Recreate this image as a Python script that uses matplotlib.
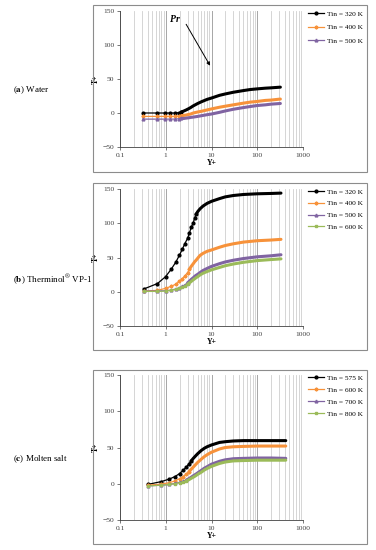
import matplotlib
matplotlib.use("Agg")
import matplotlib.pyplot as plt
from matplotlib.patches import Rectangle

plt.rcParams["font.family"] = ["Liberation Serif", "DejaVu Serif"]
plt.rcParams["mathtext.fontset"] = "stix"

# ---- data (a) Water
ya = [0.32, 0.63, 0.95, 1.26, 1.58, 1.9, 2.2, 2.5, 2.8, 3.2, 3.5, 4, 5, 6, 8,
      10, 15, 20, 30, 50, 70, 100, 150, 200, 320]
water_320 = [0, 0, 0, 0, 0, 0.5, 1.5, 3, 4.5, 6.5, 8, 10.5, 14, 16.5, 20,
             22, 26, 28, 30.5, 33, 34.5, 35.5, 36.5, 37, 38]
water_400 = [-5, -5, -5, -5, -5, -4.5, -4, -3.5, -3, -2, -1.5, 0, 1.5, 2.5, 4.5,
             6, 8.5, 10, 12, 14.5, 16, 17, 18.5, 19, 20.5]
water_500 = [-9, -9, -9, -9, -9, -8.5, -8, -8, -7.5, -7, -6.5, -6, -5, -4, -2.5,
             -1.5, 1, 3, 5.5, 8, 9.5, 11, 12, 13, 14]
water_labels = ["Tin = 320 K", "Tin = 400 K", "Tin = 500 K"]

# ---- data (b) Therminol VP-1
yb = [0.33, 0.66, 0.99, 1.32, 1.65, 1.98, 2.3, 2.6, 3.0, 3.3, 3.6, 4.0, 4.3,
      4.6, 5, 5.6, 6.5, 8, 10, 15, 20, 30, 50, 100, 200, 330]
vp1_320 = [4, 12, 22, 33, 43, 53, 62, 70, 78, 86, 94, 101, 108,
           113, 117, 121, 125, 129, 132, 136, 138.5, 140.5, 142, 143, 143.5, 144]
vp1_400 = [1, 2, 5, 8, 11, 15, 19, 23, 28, 33, 37, 41, 44,
           46, 49, 53, 56, 59, 61, 65, 67.5, 70, 72.5, 74.5, 75.5, 76.5]
vp1_500 = [1, 1, 1.5, 2.5, 4, 6, 8, 10, 13, 15.5, 18, 20.5, 22.5,
           24, 25.5, 28, 31, 34, 37, 41, 43.5, 46, 48.5, 51, 52.5, 54]
vp1_600 = [0.5, 0.5, 1, 2, 3.5, 5, 7, 9, 11, 13, 15, 17.5, 19,
           20.5, 22, 24.5, 27, 29.5, 32, 35.5, 38, 40.5, 43, 45.5, 47, 48]
vp1_labels = ["Tin = 320 K", "Tin = 400 K", "Tin = 500 K", "Tin = 600 K"]

# ---- data (c) Molten salt
yc = [0.4, 0.8, 1.2, 1.6, 2, 2.4, 2.8, 3.2, 3.6, 4, 4.5, 5, 6, 7, 8,
      10, 15, 20, 30, 50, 100, 200, 420]
salt_575 = [-1, 3, 6.5, 10, 14, 18.5, 23, 27.5, 31.5, 35, 38.5, 41.5, 46, 49, 51,
            53.5, 57, 58, 59, 59.5, 59.5, 59.5, 59.5]
salt_600 = [-2, -0.5, 1.5, 4, 7, 10, 13, 16.5, 20, 23, 26.5, 29.5, 34, 37.5, 40,
            43.5, 48, 50, 51, 51.5, 52, 52, 52]
salt_700 = [-3, -2, -1, 0.5, 2, 3.5, 5, 7, 9, 11, 13, 15, 18.5, 21.5, 23.5,
            27, 31, 33, 34.5, 35, 35.5, 35.5, 35]
salt_800 = [-3, -2, -1, 0, 1.5, 2.5, 4, 5.5, 7.5, 9, 11, 13, 16, 19, 21,
            24, 28, 30, 31.5, 32, 32.5, 32.5, 32.5]
salt_labels = ["Tin = 575 K", "Tin = 600 K", "Tin = 700 K", "Tin = 800 K"]

colors = ["black", "#F7923A", "#8064A2", "#9BBB59"]
markers = ["o", "P", "^", "s"]

W, H = 376, 550
fig = plt.figure(figsize=(W / 100, H / 100), dpi=100)


def fx(px):
    return px / W


def fy(py):
    return 1 - py / H


def panel(top, bottom, box_top, box_bottom, x, series, labels, spacing, title, title_y, cut):
    fig.add_artist(Rectangle((fx(93), fy(box_bottom)), fx(367) - fx(93),
                             fy(box_top) - fy(box_bottom), transform=fig.transFigure,
                             fill=False, edgecolor="#8c8c8c", linewidth=0.8))
    ax = fig.add_axes([fx(120), fy(bottom), fx(303) - fx(120), fy(top) - fy(bottom)])
    for i, ys in enumerate(series):
        c = cut[i]
        marks = [k for k in range(len(x)) if x[k] <= c]
        k0 = marks[-1]
        ax.plot(x, ys, color=colors[i], marker=markers[i], markersize=2.0,
                markevery=marks, linewidth=0.9, label=labels[i], zorder=3 + i * 0.1)
        # dense markers at high Y+ merge into a thick band
        ax.plot(x[k0:], ys[k0:], color=colors[i], linewidth=2.2,
                solid_capstyle="round", zorder=3 + i * 0.1)
    ax.set_xscale("log")
    ax.set_xlim(0.1, 1000)
    ax.set_ylim(-50, 150)
    ax.set_yticks([-50, 0, 50, 100, 150])
    ax.set_xticks([0.1, 1, 10, 100, 1000])
    ax.set_xticklabels(["0.1", "1", "10", "100", "1000"])
    ax.grid(True, which="major", axis="x", color="#a6a6a6", linewidth=0.7)
    ax.grid(True, which="minor", axis="x", color="#cfcfcf", linewidth=0.6)
    ax.set_axisbelow(True)
    ax.tick_params(which="both", labelsize=5.4, length=2, width=0.5, pad=2, colors="#404040")
    ax.tick_params(which="minor", length=0)
    for s in ["top", "right"]:
        ax.spines[s].set_visible(False)
    for s in ["left", "bottom"]:
        ax.spines[s].set_color("#404040")
        ax.spines[s].set_linewidth(0.6)
    ax.set_xlabel("Y+", fontsize=5.6, fontweight="bold", labelpad=1)
    ax.set_ylabel("T+", fontsize=5.6, fontweight="bold", labelpad=2)
    ax.legend(loc="upper left", bbox_to_anchor=(1.0, 1.04), frameon=False,
              fontsize=5.3, handlelength=2.2, handletextpad=0.3,
              labelspacing=spacing, borderaxespad=0.3)
    fig.text(fx(13), fy(title_y), title, fontsize=6.5, va="center", ha="left")
    return ax


axa = panel(11, 147, 5, 172, ya, [water_320, water_400, water_500],
            water_labels, 1.0, r"($\mathbf{a}$) Water", 90, [2.2, 2.2, 2.2])
axa.annotate("", xy=(10, 66), xytext=(2.6, 134),
             arrowprops=dict(arrowstyle="-|>", color="black", lw=0.7, mutation_scale=5))
axa.text(1.6, 138, "Pr", fontsize=7, fontweight="bold", style="italic", ha="center", va="center")

panel(189, 326, 183, 350, yb, [vp1_320, vp1_400, vp1_500, vp1_600],
      vp1_labels, 0.75, r"($\mathbf{b}$) Therminol$^{\circledR}$ VP-1", 279, [4.6, 3.3, 3.0, 3.0])

panel(375, 520, 370, 544, yc, [salt_575, salt_600, salt_700, salt_800],
      salt_labels, 0.8, r"($\mathbf{c}$) Molten salt", 459, [3.6, 3.2, 2.8, 2.8])

fig.savefig("out.png", dpi=100, facecolor="white")
